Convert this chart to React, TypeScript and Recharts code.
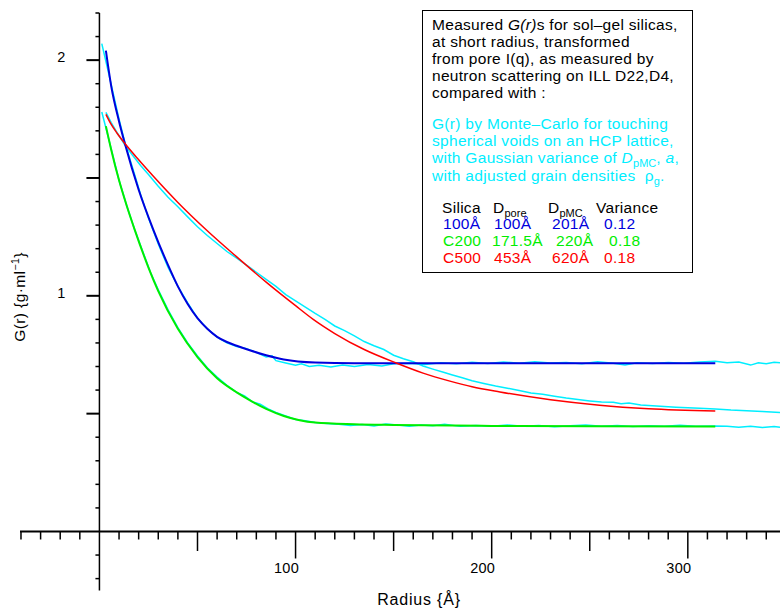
import React from "react";
import { LineChart, Line, XAxis, YAxis, ReferenceLine, ReferenceDot } from "recharts";

// Monte-Carlo fits (radius in Å, G(r) in g/ml)
const blueFitR = [3.3, 6, 10, 13, 20, 27.5, 35, 40, 45, 50, 55, 60, 65, 70, 77, 85, 94, 110, 130, 160, 200, 250, 314];
const blueFitG = [2.04, 1.89, 1.74, 1.645, 1.45, 1.28, 1.13, 1.04, 0.965, 0.905, 0.86, 0.826, 0.804, 0.788, 0.768, 0.748, 0.73, 0.717, 0.714, 0.714, 0.714, 0.714, 0.714];

const greenFitR = [3.3, 6, 10, 14, 18, 25, 30, 40, 50, 60, 70, 77, 85, 94, 110, 130, 150, 200, 250, 314];
const greenFitG = [1.72, 1.62, 1.49, 1.38, 1.28, 1.12, 1.02, 0.86, 0.74, 0.65, 0.59, 0.555, 0.52, 0.49, 0.462, 0.455, 0.452, 0.448, 0.446, 0.445];

const redFitR = [3.3, 6, 9, 13.1, 20, 27.5, 40, 54.7, 70, 85, 100, 109, 120, 135, 151.6, 165, 178.7, 190, 204.2, 230, 255, 280, 314];
const redFitG = [1.77, 1.727, 1.69, 1.645, 1.577, 1.507, 1.396, 1.278, 1.165, 1.058, 0.958, 0.9, 0.84, 0.772, 0.714, 0.672, 0.638, 0.614, 0.592, 0.559, 0.536, 0.521, 0.511];

// measured G(r) from neutron scattering (cyan)
const blueMeasR = [1.2, 4, 7, 10, 13, 17, 21, 25, 30, 35, 40, 45, 50, 55, 60, 65, 70, 75, 80, 85, 88, 90, 95, 100, 103, 107, 112, 118, 124, 130, 137, 144, 150, 158, 166, 174, 182, 190, 198, 206, 214, 222, 230, 238, 246, 254, 262, 268, 274, 282, 290, 298, 306, 314, 320, 326, 332, 336, 340, 344, 347];
const blueMeasG = [2.07, 1.97, 1.86, 1.75, 1.65, 1.54, 1.43, 1.33, 1.22, 1.12, 1.04, 0.97, 0.905, 0.86, 0.825, 0.8, 0.785, 0.775, 0.76, 0.74, 0.745, 0.725, 0.715, 0.705, 0.712, 0.7, 0.705, 0.698, 0.706, 0.7, 0.708, 0.702, 0.712, 0.714, 0.709, 0.716, 0.712, 0.718, 0.713, 0.719, 0.714, 0.72, 0.715, 0.717, 0.712, 0.72, 0.714, 0.706, 0.716, 0.713, 0.717, 0.714, 0.719, 0.722, 0.716, 0.719, 0.706, 0.716, 0.712, 0.718, 0.716];

const greenMeasR = [1.2, 4, 7, 10, 14, 18, 22, 26, 30, 35, 40, 45, 50, 55, 60, 65, 70, 74, 78, 82, 86, 90, 95, 100, 105, 110, 116, 122, 128, 134, 140, 146, 152, 158, 164, 170, 176, 184, 192, 200, 208, 216, 224, 232, 240, 248, 256, 264, 272, 280, 288, 296, 304, 314, 320, 326, 332, 338, 344, 347];
const greenMeasG = [1.78, 1.69, 1.59, 1.49, 1.38, 1.28, 1.19, 1.1, 1.025, 0.94, 0.865, 0.8, 0.745, 0.695, 0.655, 0.62, 0.59, 0.575, 0.55, 0.54, 0.52, 0.505, 0.49, 0.475, 0.47, 0.462, 0.458, 0.455, 0.45, 0.454, 0.448, 0.456, 0.452, 0.447, 0.452, 0.449, 0.455, 0.446, 0.45, 0.447, 0.452, 0.446, 0.45, 0.444, 0.449, 0.452, 0.446, 0.45, 0.445, 0.449, 0.446, 0.451, 0.447, 0.448, 0.446, 0.442, 0.446, 0.441, 0.445, 0.442];

const redMeasR = [3.3, 6, 9, 13, 17, 21, 25, 30, 35, 40, 45, 50, 55, 60, 65, 70, 75, 80, 85, 90, 95, 100, 105, 110, 115, 120, 125, 130, 135, 140, 145, 150, 155, 160, 165, 170, 175, 180, 185, 190, 196, 202, 208, 214, 220, 226, 232, 238, 244, 250, 256, 262, 266, 270, 276, 282, 288, 294, 300, 306, 314, 322, 330, 338, 347];
const redMeasG = [1.778, 1.735, 1.692, 1.64, 1.595, 1.553, 1.515, 1.465, 1.418, 1.378, 1.335, 1.293, 1.256, 1.222, 1.188, 1.16, 1.13, 1.1, 1.07, 1.04, 1.005, 0.978, 0.952, 0.925, 0.9, 0.872, 0.852, 0.83, 0.806, 0.788, 0.772, 0.748, 0.733, 0.72, 0.702, 0.689, 0.677, 0.664, 0.652, 0.64, 0.628, 0.617, 0.608, 0.598, 0.588, 0.582, 0.574, 0.566, 0.56, 0.554, 0.549, 0.548, 0.542, 0.545, 0.537, 0.533, 0.53, 0.527, 0.525, 0.523, 0.52, 0.515, 0.512, 0.509, 0.505];

const xTicks = [-40, -30, -20, -10, 10, 20, 30, 40, 50, 60, 70, 80, 90, 100, 110, 120, 130, 140, 150, 160, 170, 180, 190, 200, 210, 220, 230, 240, 250, 260, 270, 280, 290, 300, 310, 320, 330, 340];
const xTickLabels = [100, 200, 300];
const yTicks = [-0.2, -0.1, 0.1, 0.2, 0.3, 0.4, 0.5, 0.6, 0.7, 0.8, 0.9, 1, 1.1, 1.2, 1.3, 1.4, 1.5, 1.6, 1.7, 1.8, 1.9, 2, 2.1, 2.2];
const yTickLabels = [1, 2];

const zip = (r: number[], g: number[]) => r.map((x, i) => ({ x, y: g[i] }));

const CYAN = "#00eeff";
const BLUE = "#0000dd";
const GREEN = "#00ee00";
const RED = "#ff0000";
const FONT = '"Liberation Sans", Arial, Helvetica, sans-serif';

const xTickShape = (t: number) => (p: any) => {
  const len = t % 100 === 0 ? 27 : t % 50 === 0 ? 19.5 : 8;
  return (
    <g>
      <line x1={p.cx} y1={p.cy} x2={p.cx} y2={p.cy + len} stroke="#000" strokeWidth={1.5} />
      {xTickLabels.includes(t) && (
        <text x={p.cx - 9} y={p.cy + 38} textAnchor="middle" dominantBaseline="middle" fontFamily={FONT} fontSize={14.5} fill="#000">
          {t}
        </text>
      )}
    </g>
  );
};

const yTickShape = (t: number) => (p: any) => {
  const major = Math.abs(t * 2 - Math.round(t * 2)) < 1e-6;
  return (
    <g>
      <line x1={p.cx - (major ? 13 : 4)} y1={p.cy} x2={p.cx} y2={p.cy} stroke="#000" strokeWidth={major ? 2 : 1.5} />
      {yTickLabels.includes(t) && (
        <text x={p.cx - 38} y={p.cy - 2} textAnchor="middle" dominantBaseline="middle" fontFamily={FONT} fontSize={14.5} fill="#000">
          {t}
        </text>
      )}
    </g>
  );
};

const txt = (left: number, top: number, color: string, children: React.ReactNode) => (
  <div style={{ position: "absolute", left, top: top - 9, lineHeight: "18px", whiteSpace: "nowrap", color }}>{children}</div>
);

const sub = (s: string) => <span style={{ fontSize: 11, position: "relative", top: 3.5, letterSpacing: 0 }}>{s}</span>;

export default function App() {
  return (
    <div style={{ position: "absolute", left: 0, top: 0, width: 780, height: 611, background: "#fff", fontFamily: FONT, fontSize: 15.5, letterSpacing: 0.3 }}>
      <LineChart width={780} height={611} margin={{ top: 13, right: 0, bottom: 20.6, left: 20 }}>
        <XAxis type="number" dataKey="x" domain={[-40.5, 347]} allowDataOverflow hide />
        <YAxis type="number" domain={[-0.25, 2.2]} allowDataOverflow hide />
        <ReferenceLine y={0} stroke="#000" strokeWidth={2} />
        <ReferenceLine x={0} stroke="#000" strokeWidth={1.5} />
        {xTicks.map((t) => (
          <ReferenceDot key={"x" + t} x={t} y={0} r={0} shape={xTickShape(t)} />
        ))}
        {yTicks.map((t) => (
          <ReferenceDot key={"y" + t} x={0} y={t} r={0} shape={yTickShape(t)} />
        ))}
        <Line data={zip(blueMeasR, blueMeasG)} dataKey="y" type="linear" stroke={CYAN} strokeWidth={1.5} dot={false} isAnimationActive={false} />
        <Line data={zip(greenMeasR, greenMeasG)} dataKey="y" type="linear" stroke={CYAN} strokeWidth={1.5} dot={false} isAnimationActive={false} />
        <Line data={zip(redMeasR, redMeasG)} dataKey="y" type="linear" stroke={CYAN} strokeWidth={1.5} dot={false} isAnimationActive={false} />
        <Line data={zip(blueFitR, blueFitG)} dataKey="y" type="monotone" stroke={BLUE} strokeWidth={2} dot={false} isAnimationActive={false} />
        <Line data={zip(greenFitR, greenFitG)} dataKey="y" type="monotone" stroke={GREEN} strokeWidth={2} dot={false} isAnimationActive={false} />
        <Line data={zip(redFitR, redFitG)} dataKey="y" type="monotone" stroke={RED} strokeWidth={1.5} dot={false} isAnimationActive={false} />
      </LineChart>

      <div style={{ position: "absolute", left: 20, top: 297, transform: "translate(-50%, -50%) rotate(-90deg)", whiteSpace: "nowrap", letterSpacing: 0.4 }}>
        G(r) {"{"}g·ml<span style={{ fontSize: 10.5, position: "relative", top: -6 }}>−1</span>{"}"}
      </div>
      <div style={{ position: "absolute", left: 419, top: 600, transform: "translate(-50%, -50%)", whiteSpace: "nowrap", fontSize: 16, letterSpacing: 0.8 }}>
        Radius {"{"}Å{"}"}
      </div>

      <div style={{ position: "absolute", left: 422, top: 10, width: 269, height: 261, border: "1px solid #000", background: "#fff" }} />
      {txt(432, 25, "#000", <>Measured <i>G(r)</i>s for sol–gel silicas,</>)}
      {txt(432, 42, "#000", "at short radius, transformed")}
      {txt(432, 59, "#000", "from pore I(q), as measured by")}
      {txt(432, 76, "#000", "neutron scattering on ILL D22,D4,")}
      {txt(432, 93, "#000", "compared with :")}
      {txt(432, 124, CYAN, "G(r) by Monte–Carlo for touching")}
      {txt(432, 141, CYAN, "spherical voids on an HCP lattice,")}
      {txt(432, 158, CYAN, <>with Gaussian variance of <i>D</i>{sub("pMC")}, <i>a</i>,</>)}
      {txt(432, 176, CYAN, <>with adjusted grain densities &nbsp;ρ{sub("g")}.</>)}

      {txt(442, 208, "#000", "Silica")}
      {txt(493, 208, "#000", <>D{sub("pore")}</>)}
      {txt(548, 208, "#000", <>D{sub("pMC")}</>)}
      {txt(596, 208, "#000", "Variance")}

      {txt(443, 224, BLUE, "100Å")}
      {txt(494, 224, BLUE, "100Å")}
      {txt(552, 224, BLUE, "201Å")}
      {txt(604, 224, BLUE, "0.12")}

      {txt(443, 241, GREEN, "C200")}
      {txt(492, 241, GREEN, "171.5Å")}
      {txt(556, 241, GREEN, "220Å")}
      {txt(609, 241, GREEN, "0.18")}

      {txt(443, 258, RED, "C500")}
      {txt(494, 258, RED, "453Å")}
      {txt(552, 258, RED, "620Å")}
      {txt(604, 258, RED, "0.18")}
    </div>
  );
}
